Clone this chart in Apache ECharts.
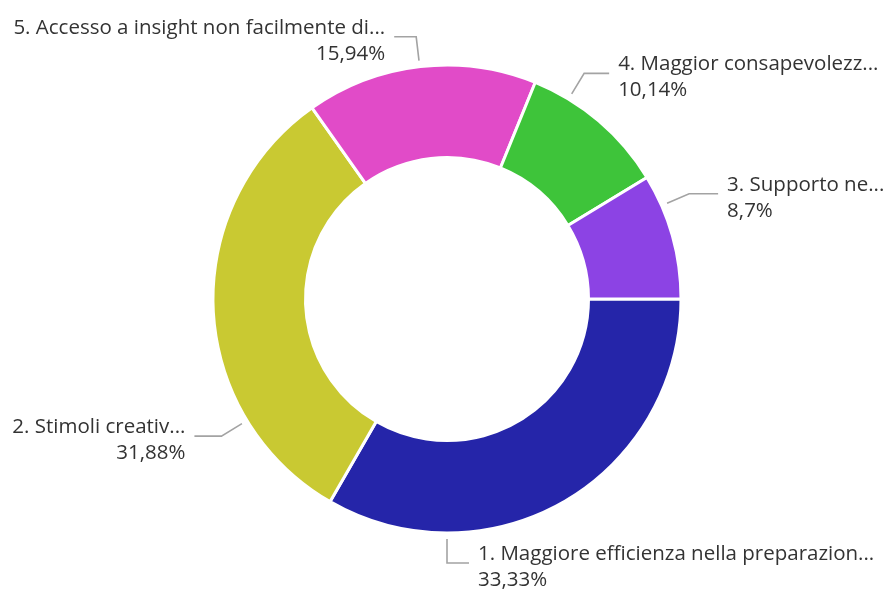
<!DOCTYPE html>
<html>
<head>
<meta charset="utf-8">
<script src="https://cdn.jsdelivr.net/npm/echarts@6/dist/echarts.min.js"></script>
<style>
  html, body { margin: 0; padding: 0; background: #ffffff; }
  #chart { width: 884px; height: 590px; }
</style>
</head>
<body>
<div id="chart"></div>
<script>
// Answer options, in drawing order (clockwise from 3 o'clock)
const categories = [
  '1. Maggiore efficienza nella preparazion...',
  '2. Stimoli creativ...',
  '5. Accesso a insight non facilmente di...',
  '4. Maggior consapevolezz...',
  '3. Supporto ne...'
];
// Number of responses per option
const responses = [23, 22, 11, 7, 6];
const sliceColors = ['#2525a9', '#c9c932', '#e14bc8', '#3ec43a', '#8c43e4'];

// Donut geometry (px)
const CX = 447, CY = 299;
const R_IN = 141.5, R_OUT = 234;

// Leader-line placement per label: start angle (deg, clockwise from east)
// and horizontal segment length
const leadAngle = [90, 148.7, 263.3, 301.3, 336.5];
const leadHoriz = [22, 27, 22, 25, 29];
const LEAD_R0 = 240, LEAD_R1 = 264, TEXT_GAP = 9;

const total = responses.reduce((a, b) => a + b, 0);
function pctText(v) {
  return Number((v / total * 100).toFixed(2)).toString().replace('.', ',') + '%';
}

const chart = echarts.init(document.getElementById('chart'), null, { renderer: 'canvas' });

chart.setOption({
  backgroundColor: '#ffffff',
  animation: false,
  series: [{
    type: 'pie',
    center: [CX, CY],
    radius: [R_IN, R_OUT],
    startAngle: 0,
    clockwise: true,
    avoidLabelOverlap: false,
    data: categories.map((name, i) => ({
      name: name,
      value: responses[i],
      itemStyle: { color: sliceColors[i] }
    })),
    itemStyle: { borderColor: '#ffffff', borderWidth: 3 },
    label: {
      show: true,
      position: 'outside',
      formatter: p => p.name + '\n' + pctText(p.value),
      fontFamily: '"Open Sans", sans-serif',
      fontSize: 20.5,
      lineHeight: 26,
      color: '#333333'
    },
    labelLine: {
      show: true,
      lineStyle: { color: '#a3a3a3', width: 1.6 }
    },
    emphasis: { disabled: true },
    labelLayout: function (params) {
      const i = params.dataIndex;
      const a = leadAngle[i] * Math.PI / 180;
      const dx = Math.cos(a), dy = Math.sin(a);
      const side = dx >= -1e-6 ? 1 : -1;
      const p0 = [CX + LEAD_R0 * dx, CY + LEAD_R0 * dy];
      const p1 = [CX + LEAD_R1 * dx, CY + LEAD_R1 * dy];
      const p2 = [p1[0] + side * leadHoriz[i], p1[1]];
      return {
        x: p2[0] + side * TEXT_GAP,
        y: p2[1] + 4,
        align: side > 0 ? 'left' : 'right',
        verticalAlign: 'middle',
        labelLinePoints: [p0, p1, p2]
      };
    }
  }]
});
</script>
</body>
</html>
